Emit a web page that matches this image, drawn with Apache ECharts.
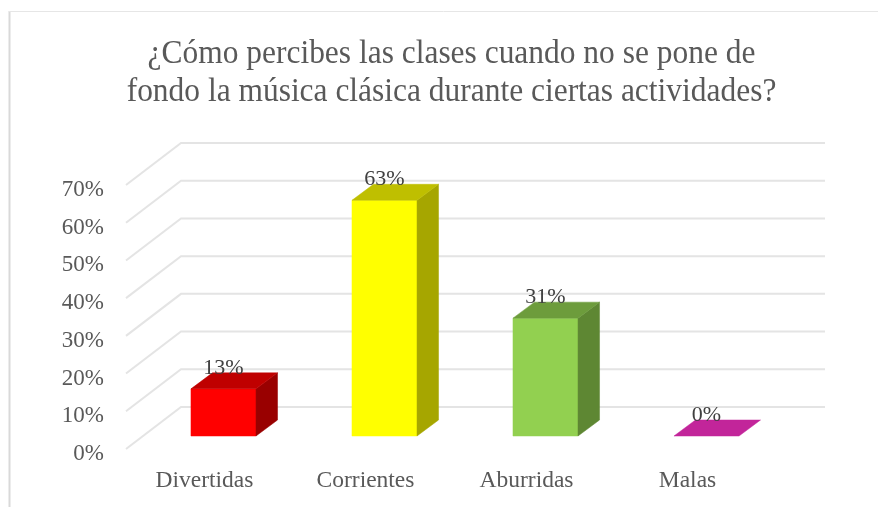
<!DOCTYPE html>
<html>
<head>
<meta charset="utf-8">
<style>html,body{margin:0;padding:0;background:#fff}#c{width:878px;height:507px}</style>
<script src="https://cdn.jsdelivr.net/npm/echarts@6/dist/echarts.min.js"></script>
</head>
<body>
<div id="c"></div>
<script>
const titleText = '¿Cómo percibes las clases cuando no se pone de\nfondo la música clásica durante ciertas actividades?';
const categories = ['Divertidas', 'Corrientes', 'Aburridas', 'Malas'];
const values = [12.5, 62.5, 31.25, 0];
const dataLabels = ['13%', '63%', '31%', '0%'];
const yTicks = [0, 10, 20, 30, 40, 50, 60, 70];

const frontColors = ['#FF0000', '#FFFF00', '#92D050', '#C2259A'];
const topColors = ['#BF0000', '#BFBF00', '#6D9C3C', '#C2259A'];
const sideColors = ['#990000', '#A6A600', '#5E8733', '#8F1C72'];

const FONT = '"Liberation Serif", "Times New Roman", serif';
const WALL = [55, -42], INSET = [17, -13], DEPTH = [21.5, -16], BAR_RATIO = 0.404;

const chart = echarts.init(document.getElementById('c'), null, {renderer: 'canvas'});
chart.setOption({
  animation: false,
  backgroundColor: '#fff',
  graphic: [
    {type: 'line', silent: true, shape: {x1: 9.5, y1: 11, x2: 9.5, y2: 507}, style: {stroke: '#d9d9d9', lineWidth: 2}},
    {type: 'line', silent: true, shape: {x1: 9, y1: 11.5, x2: 878, y2: 11.5}, style: {stroke: '#e6e6e6', lineWidth: 1}},
    {
      type: 'text', silent: true, x: 451.5, y: 73, scaleX: 0.925, scaleY: 1,
      style: {
        text: titleText, fill: '#595959', font: '34px ' + FONT,
        textAlign: 'center', textVerticalAlign: 'middle', lineHeight: 38
      }
    }
  ],
  grid: {left: 126, right: 108, top: 185, bottom: 58},
  xAxis: {
    type: 'category', data: categories,
    axisLine: {show: false}, axisTick: {show: false}, splitLine: {show: false},
    axisLabel: {fontFamily: FONT, fontSize: 23.5, color: '#595959', margin: 20, padding: [0, 4, 0, 0]}
  },
  yAxis: {
    type: 'value', min: 0, max: 70, interval: 10,
    axisLine: {show: false}, axisTick: {show: false}, splitLine: {show: false},
    axisLabel: {fontFamily: FONT, fontSize: 23, color: '#595959', margin: 22, verticalAlign: 'top', lineHeight: 10, formatter: '{value}%'}
  },
  series: [
    {
      type: 'custom', silent: true, z: 1, clip: false,
      coordinateSystem: 'cartesian2d',
      encode: {x: 0, y: 1},
      data: yTicks.map(t => [0, t]),
      renderItem(params, api) {
        const t = api.value(1);
        const a = api.coord([0, t]);
        const rect = params.coordSys;
        const y = a[1];
        const x0 = rect.x, x1 = rect.x + rect.width;
        return {
          type: 'polyline',
          shape: {points: [[x0, y], [x0 + WALL[0], y + WALL[1]], [x1 + WALL[0], y + WALL[1]]]},
          style: {fill: null, stroke: '#e4e4e4', lineWidth: 2}
        };
      }
    },
    {
      type: 'custom', silent: true, z: 2, clip: false,
      coordinateSystem: 'cartesian2d',
      encode: {x: 0, y: 1},
      data: values.map((v, i) => [i, v]),
      renderItem(params, api) {
        const i = api.value(0);
        const v = api.value(1);
        const top = api.coord([i, v]);
        const base = api.coord([i, 0]);
        const w = api.size([1, 0])[0] * BAR_RATIO;
        const xl = top[0] + INSET[0] - w / 2;
        const xr = xl + w;
        const yt = top[1] + INSET[1];
        const yb = base[1] + INSET[1];
        const dx = DEPTH[0], dy = DEPTH[1];
        const poly = (pts, fill) => ({type: 'polygon', shape: {points: pts}, style: {fill, stroke: fill, lineWidth: 0.5}});
        const children = [];
        if (v > 0) {
          children.push(poly([[xl, yb], [xr, yb], [xr, yt], [xl, yt]], frontColors[i]));
          children.push(poly([[xr, yb], [xr + dx, yb + dy], [xr + dx, yt + dy], [xr, yt]], sideColors[i]));
        }
        children.push(poly([[xl, yt], [xr, yt], [xr + dx, yt + dy], [xl + dx, yt + dy]], topColors[i]));
        children.push({
          type: 'text',
          style: {
            x: (xl + xr) / 2, y: yt - 21, text: dataLabels[i],
            fill: '#404040', font: '22px ' + FONT, textAlign: 'center', textVerticalAlign: 'middle'
          }
        });
        return {type: 'group', children};
      }
    }
  ]
});
</script>
</body>
</html>
